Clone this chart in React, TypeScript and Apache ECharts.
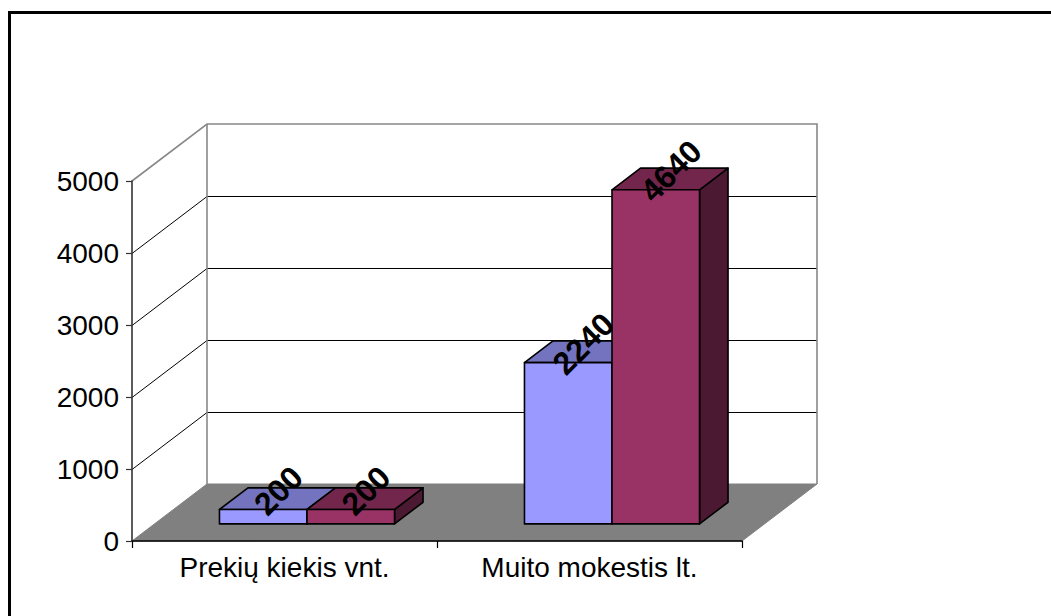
import React, { useEffect, useRef } from "react";
import * as echarts from "echarts";

const categories = ["Prekių kiekis vnt.", "Muito mokestis lt."];
const seriesA = [200, 2240];
const seriesB = [200, 4640];
const yTicks = [0, 1000, 2000, 3000, 4000, 5000];

const FONT = "'Liberation Sans', Arial, sans-serif";
const DX = 75; // full depth offset of the 3D box
const DY = -57;
const F1 = 0.3; // bar front face depth fraction
const F2 = 0.68; // bar back face depth fraction
const BAR_FRAC = 0.287; // bar width as fraction of category band

const colorsA = { front: "#9999FF", top: "#7373BF", side: "#4C4C80" };
const colorsB = { front: "#993366", top: "#73264C", side: "#4C1933" };

function makeBarRenderer(seriesIdx: number, col: { front: string; top: string; side: string }) {
  return (params: any, api: any) => {
    const cat = api.value(0);
    const v = api.value(1);
    const base = api.coord([cat, 0]);
    const topP = api.coord([cat, v]);
    const band = api.size([1, 0])[0];
    const w = band * BAR_FRAC;
    const xl = base[0] + (seriesIdx === 0 ? -w : 0) + F1 * DX;
    const xr = xl + w;
    const yb = base[1] + F1 * DY;
    const yt = topP[1] + F1 * DY;
    const dx = (F2 - F1) * DX;
    const dy = (F2 - F1) * DY;
    const stroke = { stroke: "#000", lineWidth: 1.6, lineJoin: "round" };
    return {
      type: "group",
      children: [
        {
          type: "polygon",
          shape: { points: [[xr, yb], [xr + dx, yb + dy], [xr + dx, yt + dy], [xr, yt]] },
          style: { fill: col.side, ...stroke },
        },
        {
          type: "polygon",
          shape: { points: [[xl, yt], [xr, yt], [xr + dx, yt + dy], [xl + dx, yt + dy]] },
          style: { fill: col.top, ...stroke },
        },
        {
          type: "polygon",
          shape: { points: [[xl, yb], [xr, yb], [xr, yt], [xl, yt]] },
          style: { fill: col.front, ...stroke },
        },
        {
          type: "text",
          x: (xl + xr) / 2 + dx / 2 + 1,
          y: yt + dy / 2 - 8,
          rotation: Math.PI / 4,
          z2: 100,
          style: {
            text: String(v),
            font: `bold 32px ${FONT}`,
            fill: "#000",
            align: "center",
            verticalAlign: "middle",
          },
        },
      ],
    };
  };
}

function renderWalls(params: any, api: any) {
  const c0 = api.coord([0, yTicks[0]]);
  const band = api.size([1, 0])[0];
  const x0 = c0[0] - band / 2;
  const x1 = x0 + band * categories.length;
  const y0 = c0[1];
  const yTop = api.coord([0, yTicks[yTicks.length - 1]])[1];
  const children: any[] = [];
  children.push({
    type: "polygon",
    shape: { points: [[x0, y0], [x1, y0], [x1 + DX, y0 + DY], [x0 + DX, y0 + DY]] },
    style: { fill: "#808080", stroke: "#808080", lineWidth: 1 },
  });
  yTicks.forEach((t, i) => {
    if (i === 0 || i === yTicks.length - 1) return;
    const y = Math.round(api.coord([0, t])[1]) + 0.5;
    children.push({
      type: "line",
      shape: { x1: x0 + DX, y1: y + DY, x2: x1 + DX, y2: y + DY },
      style: { stroke: "#000", lineWidth: 1 },
    });
    children.push({
      type: "line",
      shape: { x1: x0, y1: y, x2: x0 + DX, y2: y + DY },
      style: { stroke: "#000", lineWidth: 1 },
    });
  });
  children.push({
    type: "polyline",
    shape: {
      points: [
        [x0, yTop],
        [x0 + DX, yTop + DY],
        [x1 + DX, yTop + DY],
        [x1 + DX, y0 + DY],
      ],
    },
    style: { stroke: "#888", lineWidth: 1.6, fill: null },
  });
  children.push({
    type: "line",
    shape: { x1: x0 + DX, y1: yTop + DY, x2: x0 + DX, y2: y0 + DY },
    style: { stroke: "#888", lineWidth: 1.6 },
  });
  return { type: "group", children };
}

export default function App() {
  const ref = useRef<HTMLDivElement>(null);
  useEffect(() => {
    if (!ref.current) return;
    const chart = echarts.init(ref.current, undefined, { renderer: "svg" });
    chart.setOption({
      animation: false,
      backgroundColor: "#fff",
      grid: { left: 132, top: 181, width: 610, height: 360, containLabel: false },
      xAxis: {
        type: "category",
        data: categories,
        z: 5,
        axisLine: { show: true, lineStyle: { color: "#000", width: 1.6 } },
        axisTick: { show: true, length: 7, lineStyle: { color: "#000", width: 1.2 } },
        axisLabel: { interval: 0, margin: 12, fontSize: 28, fontFamily: FONT, color: "#000" },
        splitLine: { show: false },
      },
      yAxis: {
        type: "value",
        min: yTicks[0],
        max: yTicks[yTicks.length - 1],
        interval: yTicks[1] - yTicks[0],
        z: 5,
        axisLine: { show: true, lineStyle: { color: "#333", width: 1.6 } },
        axisTick: { show: true, length: 6, lineStyle: { color: "#333", width: 1.2 } },
        axisLabel: {
          margin: 13,
          fontSize: 28,
          fontFamily: FONT,
          color: "#000",
          formatter: (v: number) => String(v),
        },
        splitLine: { show: false },
      },
      graphic: [
        {
          type: "rect",
          shape: { x: 9.5, y: 12.5, width: 1200, height: 800 },
          style: { fill: "none", stroke: "#000", lineWidth: 3 },
          silent: true,
        },
      ],
      series: [
        {
          type: "custom",
          z: 1,
          renderItem: renderWalls,
          data: [[0, 0]],
          encode: { x: 0, y: 1 },
          silent: true,
        },
        {
          type: "custom",
          z: 2,
          renderItem: makeBarRenderer(0, colorsA),
          data: seriesA.map((v, i) => [i, v]),
          encode: { x: 0, y: 1 },
        },
        {
          type: "custom",
          z: 2,
          renderItem: makeBarRenderer(1, colorsB),
          data: seriesB.map((v, i) => [i, v]),
          encode: { x: 0, y: 1 },
        },
      ],
    });
    return () => chart.dispose();
  }, []);
  return (
    <div
      ref={ref}
      style={{ position: "absolute", left: 0, top: 0, width: 1051, height: 616, background: "#fff" }}
    />
  );
}
